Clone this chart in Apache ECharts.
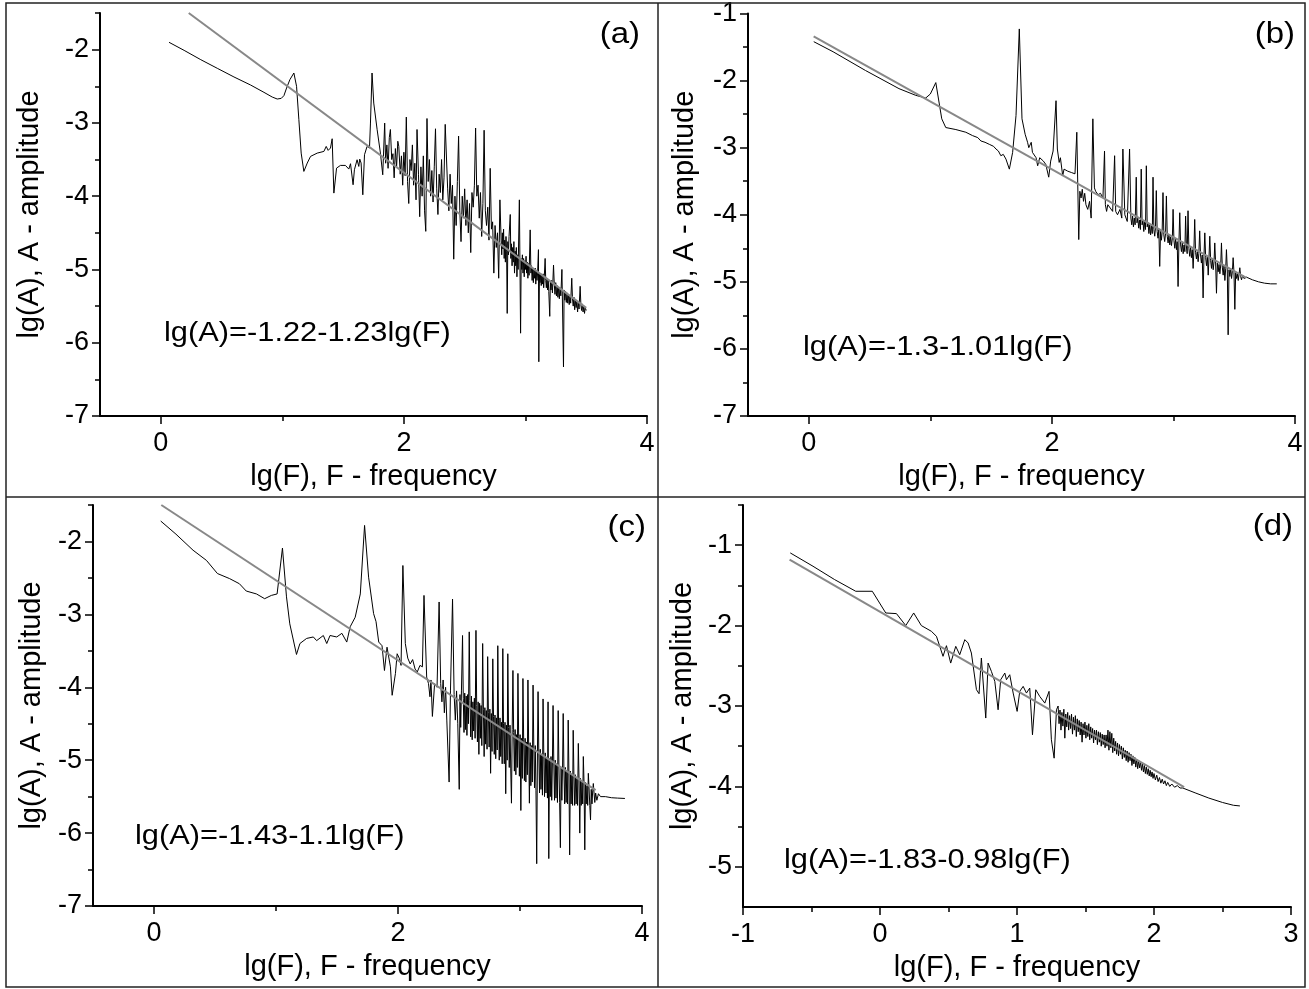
<!DOCTYPE html>
<html><head><meta charset="utf-8">
<script src="https://cdn.jsdelivr.net/npm/echarts@6/dist/echarts.min.js"></script>
<style>html,body{margin:0;padding:0;background:#fff}#c{width:1309px;height:989px}</style>
</head><body><div id="c"></div>
<script>
// ---------- data (lg F, lg A) ----------
const spectrumA = [
[0.068,-1.90],[0.192,-2.01],[0.329,-2.137],[0.465,-2.255],[0.602,-2.373],[0.739,-2.483],[0.849,-2.583],[0.917,-2.647],[0.958,-2.674],[0.991,-2.665],[1.013,-2.628],[1.035,-2.524],[1.062,-2.41],[1.095,-2.319],[1.117,-2.50],[1.136,-2.956],[1.155,-3.412],[1.177,-3.662],[1.205,-3.548],[1.232,-3.457],[1.287,-3.412],[1.342,-3.389],[1.361,-3.321],[1.377,-3.375],[1.396,-3.343],[1.41,-3.216],[1.424,-3.958],[1.446,-3.617],[1.478,-3.58],[1.519,-3.58],[1.547,-3.63],[1.561,-3.557],[1.582,-3.844],[1.593,-3.639],[1.615,-3.503],[1.629,-3.594],[1.637,-3.494],[1.648,-3.548],[1.662,-3.981],[1.676,-3.434],[1.697,-3.321],[1.717,-3.343],[1.725,-3.002],[1.738,-2.319],[1.752,-2.729],[1.78,-3.093],[1.807,-3.412],[1.826,-3.708],[1.842,-3.002],
[1.85,-3.55],[1.86,-3.30],[1.87,-3.62],[1.88,-3.20],[1.889,-3.09],[1.90,-3.50],[1.91,-3.42],[1.92,-3.75],[1.93,-3.35],[1.94,-3.60],[1.95,-3.25],[1.958,-3.32],[1.97,-3.70],[1.98,-3.45],[1.99,-3.85],[2.00,-3.40],[2.01,-3.72],[2.02,-2.92],[2.03,-3.80],[2.04,-4.10],[2.05,-3.50],[2.06,-3.65],[2.07,-3.30],[2.08,-3.85],[2.09,-3.55],[2.10,-4.05],[2.108,-3.09],[2.12,-3.70],[2.13,-4.28],[2.14,-3.60],[2.15,-4.00],[2.16,-3.45],[2.17,-4.20],[2.18,-4.48],[2.19,-2.94],[2.20,-3.80],[2.21,-3.50],[2.22,-4.00],[2.23,-3.65],[2.24,-4.08],[2.25,-3.60],[2.26,-3.08],[2.27,-3.90],[2.28,-4.25],[2.29,-3.70],[2.30,-3.95],[2.31,-3.50],[2.32,-4.05],[2.33,-3.75],[2.34,-3.02],[2.36,-3.90],[2.37,-4.20],[2.38,-3.70],[2.39,-4.10],[2.40,-3.85],[2.41,-4.86],[2.42,-4.00],[2.43,-4.40],[2.44,-3.80],[2.45,-3.18],[2.46,-4.20],[2.47,-4.62],[2.48,-4.00],[2.49,-4.30],[2.50,-3.90],[2.51,-4.40],[2.52,-4.05],[2.53,-4.50],[2.54,-4.10],[2.55,-4.77],[2.56,-3.95],[2.57,-4.15],[2.58,-3.85],[2.59,-3.07],[2.60,-4.00],[2.61,-3.85],[2.62,-4.30],[2.63,-3.95],[2.64,-4.55],[2.65,-4.10],[2.66,-3.10],[2.67,-4.20],[2.68,-4.40],[2.69,-4.15],[2.70,-4.60],[2.71,-3.62],[2.72,-4.45],[2.73,-4.35],[2.74,-5.05],[2.75,-4.40],[2.76,-4.70],[2.77,-4.50],[2.78,-5.12],[2.79,-4.05],
[2.80,-4.60],[2.805,-4.80],[2.81,-4.50],[2.815,-4.72],[2.82,-4.45],[2.825,-4.85],[2.83,-4.60],[2.835,-4.90],[2.84,-4.55],[2.845,-4.75],[2.85,-5.60],[2.855,-4.62],[2.86,-4.80],[2.865,-4.55],[2.875,-4.25],[2.88,-4.85],[2.885,-4.65],[2.89,-4.95],[2.895,-4.70],[2.90,-4.90],[2.905,-4.62],[2.91,-5.05],[2.915,-4.75],[2.92,-4.95],[2.925,-4.70],[2.93,-5.10],[2.935,-4.80],[2.94,-5.00],[2.95,-4.05],[2.96,-5.87],[2.965,-4.85],[2.97,-5.00],[2.975,-4.80],[2.98,-5.05],[2.985,-4.85],[2.99,-5.10],[2.995,-4.88],[3.00,-5.00],[3.005,-4.82],[3.01,-5.05],[3.015,-4.90],[3.02,-5.12],[3.025,-4.92],[3.03,-5.08],[3.039,-4.46],[3.045,-5.05],[3.05,-4.95],[3.055,-5.15],[3.06,-4.98],[3.065,-5.18],[3.07,-5.00],[3.075,-5.12],[3.08,-4.98],[3.085,-5.20],[3.09,-5.02],[3.095,-5.15],[3.10,-5.05],[3.107,-4.73],[3.11,-6.26],[3.115,-5.05],[3.12,-5.18],[3.125,-5.05],[3.13,-5.22],[3.135,-5.08],[3.14,-5.20],[3.145,-5.06],[3.15,-5.25],[3.155,-5.10],[3.162,-4.85],[3.167,-5.15],[3.172,-5.25],[3.177,-5.12],[3.182,-5.28],[3.187,-5.14],[3.192,-5.30],[3.20,-5.64],[3.205,-5.16],[3.21,-5.28],[3.215,-5.15],[3.222,-5.32],[3.231,-4.94],[3.237,-5.20],[3.243,-5.34],[3.249,-5.18],[3.255,-5.36],[3.261,-5.22],[3.267,-5.38],[3.273,-5.24],[3.279,-5.40],[3.285,-5.25],[3.291,-5.36],[3.30,-5.00],[3.313,-6.33],[3.318,-5.28],[3.324,-5.42],[3.33,-5.30],[3.336,-5.45],[3.342,-5.32],[3.348,-5.46],[3.354,-5.34],[3.36,-5.48],[3.366,-5.36],[3.372,-5.46],[3.381,-5.12],[3.387,-5.40],[3.393,-5.50],[3.399,-5.38],[3.405,-5.55],[3.411,-5.42],[3.417,-5.52],[3.423,-5.44],[3.429,-5.58],[3.435,-5.45],[3.441,-5.54],[3.45,-5.23],[3.456,-5.48],[3.462,-5.56],[3.468,-5.47],[3.474,-5.58],[3.48,-5.50],[3.486,-5.60],[3.492,-5.52],[3.50,-5.56]
];
const fitA = [[0.23,-1.50],[3.50,-5.525]];

const spectrumB = [
[0.041,-1.42],[0.2,-1.57],[0.467,-1.85],[0.742,-2.12],[0.88,-2.22],[0.962,-2.26],[1.0,-2.20],[1.045,-2.03],[1.094,-2.57],[1.127,-2.70],[1.21,-2.73],[1.292,-2.77],[1.347,-2.82],[1.39,-2.85],[1.416,-2.90],[1.45,-2.92],[1.485,-2.95],[1.52,-2.98],[1.54,-3.02],[1.56,-3.05],[1.58,-3.12],[1.60,-3.10],[1.622,-3.17],[1.65,-3.32],[1.677,-3.07],[1.705,-2.52],[1.732,-1.23],[1.754,-2.57],[1.78,-2.80],[1.80,-2.92],[1.81,-3.00],[1.83,-2.92],[1.84,-3.07],[1.87,-3.15],[1.883,-3.27],[1.90,-3.15],[1.93,-3.20],[1.95,-3.25],[1.974,-3.44],[1.99,-3.20],[2.01,-3.05],[2.034,-2.30],[2.045,-3.02],[2.06,-3.22],[2.07,-3.15],[2.089,-3.42],[2.10,-3.32],[2.13,-3.35],[2.16,-3.37],[2.19,-3.39],[2.205,-2.77],[2.221,-4.37],
[2.23,-3.65],[2.24,-3.75],[2.25,-3.62],[2.26,-3.80],[2.27,-3.68],[2.28,-3.85],[2.295,-3.92],[2.31,-3.80],[2.323,-4.05],[2.337,-2.57],[2.35,-3.60],[2.36,-3.65],[2.38,-3.70],[2.40,-3.68],[2.42,-3.75],[2.433,-3.05],[2.44,-3.85],[2.45,-3.95],[2.46,-3.85],[2.48,-3.90],[2.50,-3.95],[2.516,-3.12],[2.525,-3.95],[2.54,-4.00],[2.56,-3.92],[2.575,-4.05],[2.584,-3.02],[2.60,-4.00],[2.62,-4.10],[2.639,-3.02],
[2.65,-4.05],[2.657,-4.15],[2.664,-4.02],[2.671,-4.18],[2.678,-4.05],[2.685,-4.15],[2.694,-3.44],[2.70,-4.12],[2.707,-4.05],[2.714,-4.20],[2.721,-4.08],[2.728,-4.22],[2.735,-3.32],[2.742,-4.15],[2.749,-4.08],[2.756,-4.25],[2.763,-4.10],[2.77,-4.22],[2.777,-3.27],[2.784,-4.18],[2.791,-4.12],[2.798,-4.28],[2.805,-4.15],[2.812,-4.30],[2.819,-4.16],[2.826,-4.28],[2.832,-3.44],[2.839,-4.22],[2.846,-4.32],[2.852,-4.20],[2.859,-3.64],[2.866,-4.25],[2.873,-4.35],[2.880,-4.22],[2.887,-4.77],[2.894,-4.25],[2.901,-4.38],[2.907,-4.26],[2.914,-3.67],[2.921,-4.30],[2.928,-4.40],[2.935,-4.28],[2.942,-3.72],[2.949,-4.32],[2.956,-4.42],[2.963,-4.30],[2.970,-4.45],[2.977,-4.33],[2.984,-4.46],[2.991,-4.35],[2.997,-3.92],[3.004,-4.38],[3.011,-4.50],[3.018,-4.36],[3.025,-4.52],[3.031,-4.40],[3.038,-5.07],[3.045,-4.42],[3.052,-3.97],[3.059,-4.45],[3.066,-4.55],[3.073,-4.42],[3.080,-4.58],[3.087,-4.45],[3.094,-4.55],[3.10,-4.02],[3.107,-4.48],[3.113,-4.58],[3.12,-3.94],[3.127,-4.50],[3.134,-4.62],[3.141,-4.48],[3.148,-4.64],[3.155,-4.52],[3.162,-4.80],[3.168,-4.54],[3.175,-4.07],[3.182,-4.56],[3.189,-4.66],[3.196,-4.55],[3.203,-4.70],[3.209,-4.58],[3.216,-4.24],[3.223,-4.60],[3.23,-4.72],[3.237,-4.60],[3.244,-5.24],[3.251,-4.62],[3.258,-4.27],[3.265,-4.64],[3.272,-4.76],[3.279,-4.62],[3.286,-4.90],[3.292,-4.66],[3.299,-4.32],[3.306,-4.68],[3.313,-4.80],[3.32,-4.66],[3.327,-4.82],[3.334,-4.70],[3.34,-4.42],[3.347,-4.72],[3.354,-5.17],[3.361,-4.72],[3.368,-4.85],[3.375,-4.74],[3.382,-4.88],[3.389,-4.75],[3.395,-4.42],[3.402,-4.78],[3.409,-4.90],[3.416,-4.76],[3.423,-4.98],[3.43,-4.80],[3.436,-4.52],[3.443,-4.82],[3.45,-5.79],[3.457,-4.82],[3.464,-4.92],[3.471,-4.80],[3.478,-4.95],[3.485,-4.84],[3.491,-4.64],[3.498,-4.86],[3.505,-5.41],[3.512,-4.86],[3.519,-4.95],[3.526,-4.88],[3.533,-4.98],[3.54,-4.88],[3.546,-4.79],[3.553,-4.92],[3.56,-4.97],[3.57,-4.90],[3.58,-4.95],[3.60,-4.93],[3.65,-4.97],[3.70,-5.00],[3.75,-5.02],[3.80,-5.03],[3.85,-5.03]
];
const fitB = [[0.04,-1.34],[3.60,-4.94]];

const spectrumC = [
[0.055,-1.72],[0.18,-1.90],[0.32,-2.12],[0.43,-2.26],[0.52,-2.44],[0.62,-2.51],[0.70,-2.58],[0.756,-2.68],[0.84,-2.72],[0.907,-2.785],[0.962,-2.74],[1.009,-2.72],[1.053,-2.09],[1.086,-2.76],[1.113,-3.13],[1.168,-3.55],[1.196,-3.40],[1.251,-3.33],[1.306,-3.31],[1.333,-3.36],[1.388,-3.29],[1.416,-3.40],[1.443,-3.29],[1.498,-3.31],[1.54,-3.26],[1.58,-3.38],[1.608,-3.17],[1.649,-3.04],[1.691,-2.72],[1.726,-1.78],[1.759,-2.49],[1.80,-2.99],[1.82,-3.10],[1.842,-3.38],[1.869,-3.43],[1.889,-3.77],[1.91,-3.45],[1.938,-3.72],[1.952,-4.11],[1.979,-3.81],[1.993,-3.54],[2.01,-3.60],[2.025,-3.70],
[2.04,-2.33],[2.06,-3.40],[2.08,-3.60],[2.10,-3.68],[2.12,-3.62],[2.14,-3.75],[2.158,-3.79],[2.18,-3.70],[2.20,-3.72],[2.213,-2.74],[2.235,-3.86],[2.25,-3.95],[2.262,-4.13],[2.27,-3.90],[2.282,-4.40],[2.30,-3.95],[2.32,-4.00],[2.337,-2.83],[2.35,-3.95],[2.36,-4.20],[2.37,-3.90],[2.38,-4.35],[2.39,-4.00],[2.40,-4.45],[2.419,-5.30],[2.43,-4.05],[2.447,-2.79],[2.46,-4.10],[2.47,-4.45],[2.48,-4.05],[2.49,-4.50],
[2.502,-5.40],[2.508,-4.10],[2.514,-4.55],[2.52,-4.05],[2.529,-3.29],[2.535,-4.15],[2.541,-4.62],[2.547,-4.08],[2.553,-4.58],[2.559,-4.12],[2.565,-4.66],[2.571,-4.10],[2.577,-4.50],[2.584,-3.24],[2.59,-4.18],[2.596,-4.68],[2.602,-4.12],[2.608,-4.72],[2.614,-4.20],[2.62,-4.60],[2.626,-4.15],[2.632,-4.70],[2.639,-3.22],[2.645,-4.25],[2.651,-4.75],[2.657,-4.20],[2.663,-4.92],[2.669,-4.22],[2.675,-4.70],[2.681,-4.25],[2.687,-4.80],[2.694,-3.40],[2.70,-4.30],[2.706,-4.95],[2.712,-4.28],[2.718,-4.78],[2.724,-4.32],[2.73,-4.85],[2.735,-3.58],[2.741,-4.35],[2.747,-4.82],[2.753,-4.30],[2.759,-5.18],[2.765,-4.36],[2.771,-4.88],[2.777,-3.61],[2.783,-4.40],[2.789,-4.92],[2.795,-4.38],[2.801,-4.98],[2.807,-4.42],[2.813,-4.86],[2.818,-3.43],[2.824,-4.45],[2.83,-5.00],[2.836,-4.42],[2.842,-4.95],[2.848,-4.48],[2.854,-5.05],[2.859,-3.47],[2.865,-4.50],[2.871,-5.05],[2.877,-4.48],[2.883,-5.46],[2.889,-4.52],[2.895,-5.00],[2.900,-3.54],[2.906,-4.55],[2.912,-5.10],[2.918,-4.52],[2.924,-5.12],[2.93,-5.59],[2.936,-4.58],[2.942,-3.77],[2.948,-4.62],[2.954,-5.15],[2.96,-4.58],[2.966,-5.20],[2.972,-4.65],[2.978,-5.10],[2.983,-3.81],[2.989,-4.68],[2.995,-5.22],[3.001,-4.65],[3.007,-5.69],[3.013,-4.70],[3.019,-5.25],[3.024,-3.88],[3.03,-4.72],[3.036,-5.28],[3.042,-4.70],[3.048,-5.30],[3.054,-4.75],[3.06,-5.20],[3.065,-3.90],[3.071,-4.78],[3.077,-5.59],[3.083,-4.76],[3.089,-5.35],[3.095,-4.80],[3.101,-5.30],[3.107,-3.97],[3.113,-4.82],[3.119,-5.38],[3.125,-4.80],[3.131,-5.42],[3.137,-6.42],[3.143,-4.88],[3.148,-4.06],[3.154,-4.88],[3.16,-5.45],[3.166,-4.85],[3.172,-5.40],[3.178,-4.92],[3.184,-5.48],[3.189,-4.16],[3.195,-4.92],[3.201,-5.50],[3.207,-4.90],[3.213,-5.45],[3.219,-4.96],[3.225,-5.52],[3.230,-4.20],[3.236,-6.35],[3.242,-4.98],[3.248,-5.50],[3.254,-4.95],[3.26,-5.55],[3.266,-5.00],[3.271,-4.25],[3.277,-5.02],[3.283,-5.55],[3.289,-5.00],[3.295,-5.52],[3.301,-5.05],[3.307,-5.58],[3.313,-4.32],[3.319,-5.08],[3.325,-5.58],[3.331,-6.20],[3.337,-5.10],[3.343,-5.55],[3.349,-5.08],[3.354,-4.36],[3.36,-5.12],[3.366,-5.60],[3.372,-5.10],[3.378,-5.58],[3.384,-5.15],[3.39,-5.60],[3.395,-4.45],[3.401,-5.18],[3.407,-6.30],[3.413,-5.15],[3.419,-5.60],[3.425,-5.20],[3.431,-5.62],[3.436,-4.59],[3.442,-5.22],[3.448,-5.62],[3.454,-5.20],[3.46,-5.60],[3.466,-5.25],[3.472,-5.62],[3.478,-4.77],[3.484,-5.28],[3.49,-6.00],[3.496,-5.25],[3.502,-5.62],[3.508,-5.30],[3.514,-5.60],[3.519,-4.95],[3.525,-5.32],[3.531,-6.23],[3.537,-5.30],[3.543,-5.60],[3.549,-5.35],[3.555,-5.62],[3.560,-5.18],[3.566,-5.38],[3.572,-5.62],[3.578,-5.82],[3.584,-5.40],[3.59,-5.60],[3.596,-5.42],[3.601,-5.32],[3.607,-5.45],[3.613,-5.58],[3.62,-5.45],[3.63,-5.55],[3.643,-5.46],[3.66,-5.50],[3.70,-5.50],[3.75,-5.515],[3.80,-5.52],[3.86,-5.525]
];
const fitC = [[0.06,-1.50],[3.62,-5.41]];

const spectrumD = [
[-0.655,-1.096],[-0.489,-1.262],[-0.331,-1.428],[-0.177,-1.573],[-0.056,-1.573],[0.042,-1.843],[0.120,-1.851],[0.188,-2.0],[0.246,-1.843],[0.302,-2.0],[0.375,-2.071],[0.412,-2.133],[0.460,-2.382],[0.485,-2.250],[0.516,-2.466],[0.553,-2.258],[0.582,-2.362],[0.619,-2.175],[0.643,-2.216],[0.667,-2.341],[0.704,-2.797],[0.723,-2.847],[0.740,-2.403],[0.772,-3.150],[0.789,-2.466],[0.813,-2.569],[0.838,-2.694],[0.862,-3.047],[0.881,-2.673],[0.911,-2.590],[0.923,-2.673],[0.947,-2.611],[0.972,-2.839],[1.001,-3.067],[1.020,-2.818],[1.045,-2.756],[1.069,-2.839],[1.093,-2.777],[1.113,-3.358],[1.137,-2.798],[1.166,-2.881],[1.203,-2.964],[1.234,-2.818],[1.251,-3.420],[1.271,-3.649],[1.288,-3.047],
[1.300,-3.00],[1.307,-3.22],[1.314,-3.05],[1.321,-3.30],[1.328,-3.08],[1.335,-3.25],[1.342,-3.04],[1.349,-3.40],[1.356,-3.10],[1.363,-3.26],[1.370,-3.08],[1.377,-3.30],[1.384,-3.12],[1.391,-3.28],[1.398,-3.10],[1.405,-3.35],[1.412,-3.14],[1.419,-3.30],[1.426,-3.12],[1.433,-3.38],[1.440,-3.16],[1.447,-3.32],[1.454,-3.18],[1.461,-3.36],[1.468,-3.20],[1.475,-3.45],[1.482,-3.22],[1.489,-3.36],[1.496,-3.20],[1.503,-3.40],[1.510,-3.24],[1.517,-3.38],[1.524,-3.22],[1.531,-3.42],[1.538,-3.26],[1.545,-3.40],[1.552,-3.28],[1.559,-3.46],[1.566,-3.30],[1.573,-3.42],[1.580,-3.30],[1.587,-3.48],[1.594,-3.32],[1.601,-3.45],[1.608,-3.33],[1.615,-3.50],[1.622,-3.35],[1.629,-3.48],[1.636,-3.36],[1.643,-3.52],[1.650,-3.36],[1.657,-3.50],[1.664,-3.30],[1.671,-3.55],[1.678,-3.32],[1.685,-3.52],[1.692,-3.34],[1.699,-3.58],[1.706,-3.40],[1.713,-3.56],[1.720,-3.44],[1.727,-3.60],[1.734,-3.46],[1.741,-3.62],[1.748,-3.48],[1.755,-3.60],[1.762,-3.50],[1.769,-3.66],[1.776,-3.52],[1.783,-3.64],[1.790,-3.55],[1.797,-3.68],[1.804,-3.56],[1.811,-3.70],[1.818,-3.58],[1.825,-3.68],[1.832,-3.60],[1.839,-3.74],[1.846,-3.62],[1.853,-3.72],[1.860,-3.64],[1.867,-3.76],[1.874,-3.66],[1.881,-3.78],[1.888,-3.68],[1.895,-3.77],[1.902,-3.70],[1.909,-3.80],[1.916,-3.72],[1.923,-3.82],[1.930,-3.74],[1.937,-3.84],[1.944,-3.76],[1.951,-3.85],[1.958,-3.78],[1.965,-3.87],[1.972,-3.80],[1.979,-3.88],[1.986,-3.82],[1.993,-3.90],[2.000,-3.84],[2.010,-3.92],[2.020,-3.86],[2.030,-3.94],[2.040,-3.89],[2.050,-3.96],[2.060,-3.91],[2.070,-3.97],[2.080,-3.93],[2.090,-3.99],[2.100,-3.95],[2.115,-4.00],[2.130,-3.97],[2.150,-4.01],[2.170,-3.99],[2.190,-4.02],[2.21,-4.02],[2.30,-4.08],[2.40,-4.145],[2.50,-4.20],[2.58,-4.235],[2.627,-4.243]
];
const fitD = [[-0.66,-1.18],[2.22,-4.01]];

// tick values
const xMajorABC = [0, 2, 4];
const xMinorABC = [1, 3];
const yMajorAC = [-7, -6, -5, -4, -3, -2];
const yMinorAC = [-6.5, -5.5, -4.5, -3.5, -2.5, -1.5];
const yMajorB = [-7, -6, -5, -4, -3, -2, -1];
const yMinorB = [-6.5, -5.5, -4.5, -3.5, -2.5, -1.5];
const xMajorD = [-1, 0, 1, 2, 3];
const xMinorD = [-0.5, 0.5, 1.5, 2.5];
const yMajorD = [-5, -4, -3, -2, -1];
const yMinorD = [-4.5, -3.5, -2.5, -1.5, -0.5];

const xName = 'lg(F), F - frequency';
const yName = 'lg(A), A - amplitude';
const equations = ['lg(A)=-1.22-1.23lg(F)', 'lg(A)=-1.3-1.01lg(F)', 'lg(A)=-1.43-1.1lg(F)', 'lg(A)=-1.83-0.98lg(F)'];
const panelLabels = ['(a)', '(b)', '(c)', '(d)'];

// ---------- layout ----------
const FONT = '"Liberation Sans", Arial, Helvetica, sans-serif';
const panels = [
  {grid:{left:100, top:13, width:547, height:403}, x:[-0.5,4], y:[-7,-1.5], xMaj:xMajorABC, xMin:xMinorABC, yMaj:yMajorAC, yMin:yMinorAC, data:spectrumA, fit:fitA, xGap:46, yGap:56, eq:[164,333], lab:[640,35]},
  {grid:{left:748, top:13, width:547, height:403}, x:[-0.5,4], y:[-7,-1], xMaj:xMajorABC, xMin:xMinorABC, yMaj:yMajorB, yMin:yMinorB, data:spectrumB, fit:fitB, xGap:46, yGap:49, eq:[803,347], lab:[1295,35]},
  {grid:{left:93, top:505, width:549, height:401}, x:[-0.5,4], y:[-7,-1.5], xMaj:xMajorABC, xMin:xMinorABC, yMaj:yMajorAC, yMin:yMinorAC, data:spectrumC, fit:fitC, xGap:46, yGap:47, eq:[135,836], lab:[646,528]},
  {grid:{left:743, top:505, width:548, height:402}, x:[-1,3], y:[-5.5,-0.5], xMaj:xMajorD, xMin:xMinorD, yMaj:yMajorD, yMin:yMinorD, data:spectrumD, fit:fitD, xGap:46, yGap:46, eq:[784,860], lab:[1293,527]}
];

function axisPair(pos, gi, range, major, minor, name, gap) {
  const base = {type:'value', gridIndex:gi, min:range[0], max:range[1], position:pos, splitLine:{show:false}, scale:true};
  const main = Object.assign({}, base, {
    name: name, nameLocation:'middle', nameGap:gap,
    nameTextStyle:{fontSize:29, color:'#000', fontFamily:FONT},
    axisLine:{show:true, onZero:false, lineStyle:{color:'#000', width:2}},
    axisTick:{show:true, inside:false, length:8, lineStyle:{color:'#000', width:1.5}, customValues:major},
    axisLabel:{show:true, customValues:major, fontSize:27, color:'#000', fontFamily:FONT, margin: pos==='bottom'?14:11}
  });
  const sub = Object.assign({}, base, {
    axisLine:{show:false, onZero:false},
    axisTick:{show:true, inside:false, length:5, lineStyle:{color:'#000', width:1.5}, customValues:minor},
    axisLabel:{show:false, customValues:minor}
  });
  return [main, sub];
}

const grids = [], xAxes = [], yAxes = [], series = [], graphics = [];
panels.forEach((p, i) => {
  grids.push(p.grid);
  xAxes.push(...axisPair('bottom', i, p.x, p.xMaj, p.xMin, xName, p.xGap));
  yAxes.push(...axisPair('left', i, p.y, p.yMaj, p.yMin, yName, p.yGap));
  series.push({type:'line', xAxisIndex:2*i, yAxisIndex:2*i, data:p.data, showSymbol:false, symbol:'none', z:2,
    lineStyle:{color:'#000', width:1}, silent:true, animation:false});
  series.push({type:'line', xAxisIndex:2*i, yAxisIndex:2*i, data:p.fit, showSymbol:false, symbol:'none', z:3,
    lineStyle:{color:'#888', width:2}, silent:true, animation:false});
  graphics.push({type:'text', x:p.eq[0], y:p.eq[1], scaleX:1.1, z:10,
    style:{text:equations[i], fontSize:28, fontFamily:FONT, fill:'#000', textAlign:'left', textVerticalAlign:'middle'}});
  graphics.push({type:'text', x:p.lab[0], y:p.lab[1], scaleX:1.1, z:10,
    style:{text:panelLabels[i], fontSize:30, fontFamily:FONT, fill:'#000', textAlign:'right', textVerticalAlign:'middle'}});
});
// frame
graphics.push({type:'rect', shape:{x:6, y:3, width:1299, height:984}, style:{fill:'none', stroke:'#222', lineWidth:1.5}, z:1});
graphics.push({type:'line', shape:{x1:658, y1:3, x2:658, y2:987}, style:{stroke:'#222', lineWidth:1.5}, z:1});
graphics.push({type:'line', shape:{x1:6, y1:497, x2:1305, y2:497}, style:{stroke:'#222', lineWidth:1.5}, z:1});

const chart = echarts.init(document.getElementById('c'), null, {renderer:'canvas'});
chart.setOption({
  animation:false,
  backgroundColor:'#fff',
  grid:grids, xAxis:xAxes, yAxis:yAxes, series:series, graphic:graphics
});
</script></body></html>
